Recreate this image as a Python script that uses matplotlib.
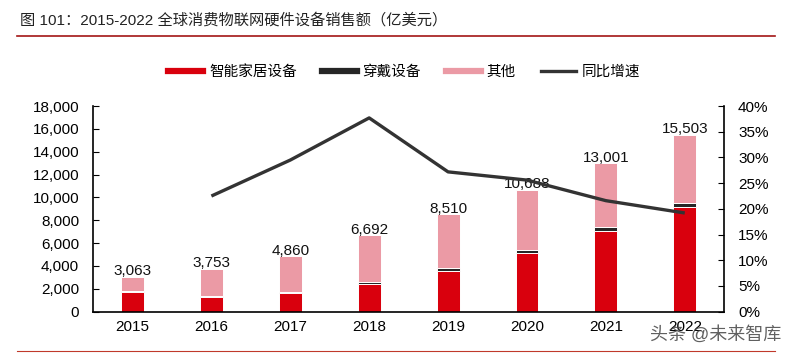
import matplotlib
matplotlib.use("Agg")
import matplotlib.pyplot as plt
from matplotlib.lines import Line2D

plt.rcParams['font.family'] = ['Liberation Sans', 'Noto Sans CJK SC', 'DejaVu Sans']

# data (亿美元)
years = ["2015", "2016", "2017", "2018", "2019", "2020", "2021", "2022"]
smart_home = [1750, 1255, 1600, 2390, 3560, 5160, 7090, 9190]
wearable = [60, 80, 150, 220, 260, 280, 300, 330]
others = [1253, 2418, 3110, 4082, 4690, 5248, 5611, 5983]
totals = [3063, 3753, 4860, 6692, 8510, 10688, 13001, 15503]
growth_years = ["2016", "2017", "2018", "2019", "2020", "2021", "2022"]
growth = [22.5, 29.5, 37.7, 27.2, 25.6, 21.6, 19.2]

RED = "#d9000d"
BLACK = "#262626"
PINK = "#eb9aa5"
LINE = "#333333"

fig = plt.figure(figsize=(8.02, 3.56), dpi=100)
ax = fig.add_axes([0.116, 0.1245, 0.787, 0.5775])

x = list(range(len(years)))
w = 0.29
ax.bar(x, smart_home, w, color=RED, edgecolor="white", linewidth=0.7)
ax.bar(x, wearable, w, bottom=smart_home, color=BLACK, edgecolor="white", linewidth=0.7)
bottom3 = [a + b for a, b in zip(smart_home, wearable)]
ax.bar(x, others, w, bottom=bottom3, color=PINK, edgecolor="white", linewidth=0.7)

for xi, t in zip(x, totals):
    ax.annotate(f"{t:,}", (xi, t), xytext=(0, 4), textcoords="offset points",
                ha="center", va="center", fontsize=11, color="#111111")

ax.set_xlim(-0.5, 7.5)
ax.set_ylim(0, 18000)
ax.set_yticks(range(0, 18001, 2000))
ax.set_yticklabels([f"{v:,}" for v in range(0, 18001, 2000)])
ax.set_xticks(x)
ax.set_xticklabels(years)
ax.tick_params(axis="y", direction="in", length=4, labelsize=11, pad=10)
ax.tick_params(axis="x", length=0, labelsize=11, pad=6)
ax.spines["top"].set_visible(False)
ax.spines["right"].set_visible(False)
for s in ["left", "bottom"]:
    ax.spines[s].set_linewidth(1.2)

ax2 = ax.twinx()
gx = [years.index(g) for g in growth_years]
ax2.plot(gx, growth, color=LINE, linewidth=2.4, solid_capstyle="butt")
ax2.set_ylim(0, 40)
ax2.set_yticks(range(0, 41, 5))
ax2.set_yticklabels([f"{v}%" for v in range(0, 41, 5)])
ax2.tick_params(axis="y", direction="in", length=4, labelsize=11, pad=10)
ax2.spines["top"].set_visible(False)
ax2.spines["left"].set_visible(False)
ax2.spines["bottom"].set_visible(False)
ax2.spines["right"].set_linewidth(1.2)

handles = [
    Line2D([], [], color=RED, linewidth=4.5),
    Line2D([], [], color=BLACK, linewidth=4.5),
    Line2D([], [], color=PINK, linewidth=4.5),
    Line2D([], [], color=LINE, linewidth=2.4),
]
labels = ["智能家居设备", "穿戴设备", "其他", "同比增速"]
fig.legend(handles, labels, loc="center", bbox_to_anchor=(0.504, 0.798), ncol=4,
           frameon=False, fontsize=10.5, handlelength=2.4, handletextpad=0.4,
           columnspacing=1.7)

fig.text(0.025, 0.944, "图 101：2015-2022 全球消费物联网硬件设备销售额（亿美元）",
         fontsize=11, ha="left", va="center", color="#222222")
fig.add_artist(Line2D([0.021, 0.966], [0.899, 0.899], color="#a31515", linewidth=1.2))
fig.add_artist(Line2D([0.021, 0.966], [0.013, 0.013], color="#c0392b", linewidth=0.8))

fig.text(0.81, 0.058, "头条 @未来智库", fontsize=13, ha="left", va="center",
         color="#444444", alpha=0.85)

fig.savefig("out.png", dpi=100)
